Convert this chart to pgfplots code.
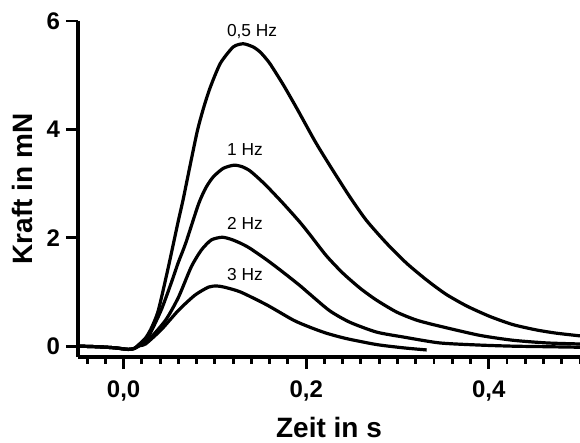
\documentclass[border=0pt]{standalone}
\usepackage{fontspec}
\setmainfont{Liberation Sans}
\usepackage{pgfplots}
\pgfplotsset{compat=1.18}
\begin{document}
\begin{tikzpicture}
\begin{axis}[
  scale only axis, width=376.5pt, height=252pt,
  xmin=-0.05, xmax=0.5, ymin=-0.2, ymax=6,
  axis x line*=bottom, axis y line*=left,
  axis line style={line width=2.5pt},
  tick align=outside,
  major tick length=9pt, minor tick length=5pt,
  every tick/.style={line width=2.2pt, black},
  xtick={0,0.2,0.4}, ytick={0,2,4,6},
  minor xtick={-0.04,-0.02,0.02,0.04,0.06,0.08,0.1,0.12,0.14,0.16,0.18,0.22,0.24,0.26,0.28,0.3,0.32,0.34,0.36,0.38,0.42,0.44,0.46,0.48,0.5},
  /pgf/number format/assume math mode=true,
  ticklabel style={font=\fontsize{18}{21}\selectfont\bfseries},
  xticklabel style={yshift=-5pt, /pgf/number format/.cd, fixed, fixed zerofill, precision=1, use comma},
  yticklabel style={xshift=-1pt, /pgf/number format/.cd, fixed, precision=0},
  xlabel={Zeit in s}, ylabel={Kraft in mN},
  label style={font=\fontsize{21}{25}\selectfont\bfseries},
  ylabel style={at={(axis description cs:-0.111,0.5)}, anchor=center},
  xlabel style={at={(axis description cs:0.5,-0.21)}, anchor=center},
  every axis plot/.style={black, line width=2.4pt, line join=round},
]
\coordinate (sw) at (rel axis cs:0,0);
% 0.5 Hz
\addplot[smooth, tension=0.4] coordinates {
(-0.05,0.0) (-0.03,-0.01) (-0.01,-0.03) (0.005,-0.06) (0.012,-0.04) (0.018,0.05)
(0.024,0.15) (0.030,0.32) (0.038,0.66) (0.049,1.46) (0.060,2.32) (0.065,2.69)
(0.073,3.35) (0.081,3.99) (0.088,4.42) (0.095,4.78) (0.106,5.22) (0.120,5.52)
(0.131,5.58) (0.142,5.52) (0.150,5.42) (0.160,5.22) (0.175,4.82) (0.190,4.38)
(0.207,3.86) (0.215,3.63) (0.229,3.25) (0.248,2.75) (0.266,2.32) (0.288,1.90)
(0.310,1.53) (0.332,1.22) (0.353,0.96) (0.376,0.74) (0.401,0.55) (0.426,0.40)
(0.452,0.30) (0.474,0.24) (0.500,0.19)
};
% 1 Hz
\addplot[smooth, tension=0.4] coordinates {
(-0.05,0.0) (-0.03,-0.01) (-0.01,-0.03) (0.005,-0.06) (0.012,-0.04) (0.018,0.04)
(0.027,0.17) (0.041,0.66) (0.052,1.16) (0.060,1.55) (0.068,1.90) (0.082,2.62)
(0.090,2.92) (0.098,3.12) (0.109,3.28) (0.121,3.34) (0.130,3.31) (0.138,3.24)
(0.147,3.11) (0.157,2.95) (0.175,2.63) (0.193,2.29) (0.204,2.06) (0.222,1.67)
(0.240,1.35) (0.259,1.07) (0.277,0.85) (0.299,0.63) (0.321,0.48) (0.346,0.37)
(0.390,0.20) (0.426,0.11) (0.463,0.06) (0.500,0.04)
};
% 2 Hz
\addplot[smooth, tension=0.4] coordinates {
(-0.05,0.0) (-0.03,-0.01) (-0.01,-0.03) (0.005,-0.06) (0.012,-0.04) (0.018,0.03)
(0.027,0.11) (0.046,0.48) (0.060,0.90) (0.074,1.46) (0.085,1.77) (0.096,1.96)
(0.108,2.01) (0.118,1.97) (0.128,1.90) (0.138,1.81) (0.157,1.59) (0.175,1.36)
(0.193,1.12) (0.204,0.96) (0.226,0.65) (0.248,0.44) (0.277,0.26) (0.306,0.17)
(0.346,0.06) (0.390,0.02) (0.426,0.00) (0.463,-0.01) (0.500,-0.02)
};
% 3 Hz
\addplot[smooth, tension=0.4] coordinates {
(-0.05,0.0) (-0.03,-0.01) (-0.01,-0.03) (0.005,-0.06) (0.012,-0.04) (0.018,0.01)
(0.024,0.04) (0.041,0.30) (0.060,0.66) (0.078,0.94) (0.093,1.09) (0.102,1.11)
(0.110,1.09) (0.128,1.00) (0.157,0.76) (0.186,0.48) (0.204,0.35) (0.222,0.24)
(0.244,0.14) (0.277,0.03) (0.306,-0.03) (0.332,-0.07)
};
\node[font=\fontsize{13}{15}\selectfont] at (axis cs:0.1407,5.81) {0,5 Hz};
\node[font=\fontsize{13}{15}\selectfont] at (axis cs:0.133,3.62) {1 Hz};
\node[font=\fontsize{13}{15}\selectfont] at (axis cs:0.133,2.26) {2 Hz};
\node[font=\fontsize{13}{15}\selectfont] at (axis cs:0.133,1.32) {3 Hz};
\end{axis}
\pgfresetboundingbox
\path[use as bounding box] (sw) ++(-58.5pt,-63.75pt) rectangle ++(435pt,331.5pt);
\end{tikzpicture}
\end{document}
